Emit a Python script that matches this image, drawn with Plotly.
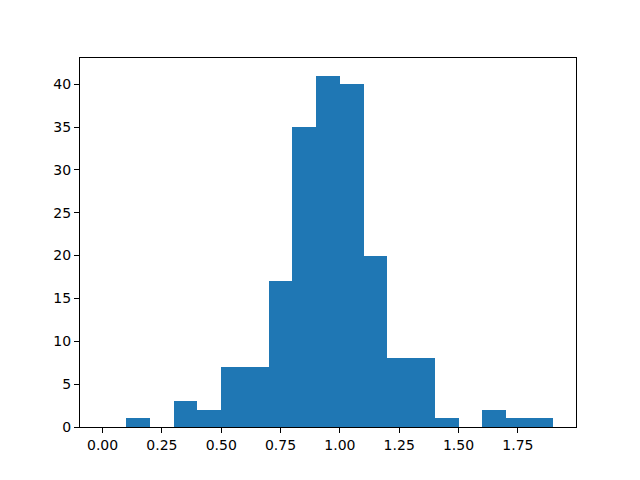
import plotly.graph_objects as go

bin_edges = [round(0.1 * i, 1) for i in range(20)]
counts = [0, 1, 0, 3, 2, 7, 7, 17, 35, 41, 40, 20, 8, 8, 1, 0, 2, 1, 1]
x_ticks = [0.0, 0.25, 0.5, 0.75, 1.0, 1.25, 1.5, 1.75]
x_tick_labels = ["0.00", "0.25", "0.50", "0.75", "1.00", "1.25", "1.50", "1.75"]
y_ticks = [0, 5, 10, 15, 20, 25, 30, 35, 40]

centers = [(bin_edges[i] + bin_edges[i + 1]) / 2 for i in range(len(counts))]
widths = [bin_edges[i + 1] - bin_edges[i] for i in range(len(counts))]

fig = go.Figure(go.Bar(x=centers, y=counts, width=widths,
                       marker=dict(color="#1f77b4", line=dict(width=0))))

axis_common = dict(showline=True, linecolor="black", linewidth=1, mirror=True,
                   ticks="outside", ticklen=5, tickcolor="black", showgrid=False,
                   zeroline=False, tickfont=dict(family="DejaVu Sans", size=14, color="black"))
lo, hi = bin_edges[0], bin_edges[-1]
pad = 0.05 * (hi - lo)
fig.update_xaxes(range=[lo - pad, hi + pad], tickvals=x_ticks, ticktext=x_tick_labels, **axis_common)
fig.update_yaxes(range=[0, max(counts) * 1.05], tickvals=y_ticks, **axis_common)
fig.update_layout(width=640, height=480, margin=dict(l=72, r=72, t=50, b=61),
                  plot_bgcolor="white", paper_bgcolor="white", showlegend=False, bargap=0)
fig.write_html("out.html")
